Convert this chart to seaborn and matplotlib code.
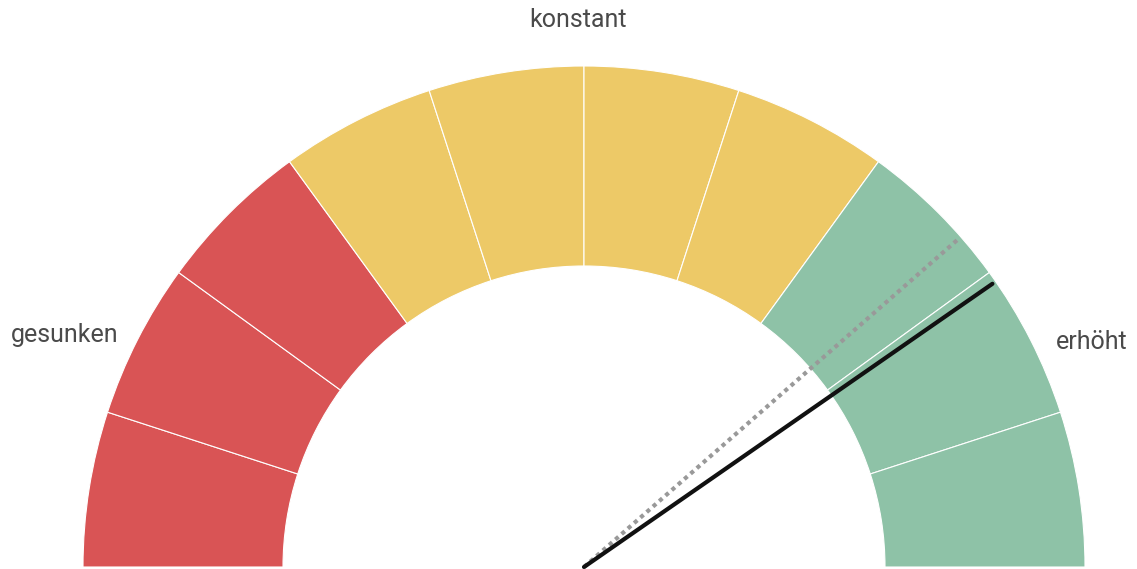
import numpy as np
import pandas as pd
import seaborn as sns
import matplotlib.pyplot as plt
from matplotlib.patches import Wedge

sns.set_style("white")
plt.rcParams["font.family"] = ["Roboto", "DejaVu Sans"]

# gauge data: 10 segments over the half circle, value scale 0..10
segment_colors = ["red"] * 3 + ["yellow"] * 4 + ["green"] * 3
palette = {"red": "#D95455", "yellow": "#EDC967", "green": "#8EC2A7"}
n_segments = 10
needle_names = ["aktuell", "vorher"]
needle_values = [8.07, 7.71]
labels = ["gesunken", "konstant", "erhöht"]

R_OUT, R_IN, R_NEEDLE = 501, 301, 497


def value_to_angle(v):
    return 180 - v / n_segments * 180


fig = plt.figure(figsize=(11.37, 5.69), dpi=100)
ax = fig.add_axes([0, 0, 1, 1])

for i, c in enumerate(segment_colors):
    a1 = value_to_angle(i + 1)
    a0 = value_to_angle(i)
    ax.add_patch(Wedge((0, 0), R_OUT, a1, a0, width=R_OUT - R_IN,
                       facecolor=palette[c], edgecolor="white", linewidth=0.8))

rows = []
for name, v in zip(needle_names, needle_values):
    ang = np.deg2rad(value_to_angle(v))
    rows.append({"needle": name, "x": 0.0, "y": 0.0})
    rows.append({"needle": name, "x": R_NEEDLE * np.cos(ang), "y": R_NEEDLE * np.sin(ang)})
df = pd.DataFrame(rows)

sns.lineplot(data=df[df.needle == "vorher"], x="x", y="y", color="#999999",
             linewidth=3, linestyle=(0, (1, 1)), sort=False, ax=ax, legend=False)
sns.lineplot(data=df[df.needle == "aktuell"], x="x", y="y", color="#111111",
             linewidth=3, sort=False, ax=ax, legend=False)

label_pos = [(-519, 232), (-6, 547), (508, 225)]
for txt, (x, y) in zip(labels, label_pos):
    ax.text(x, y, txt, ha="center", va="center", fontsize=18, color="#4a4a4a")

ax.set_xlim(-584, 553)
ax.set_ylim(-2, 567)
ax.set_aspect("equal")
ax.axis("off")

fig.savefig("out.png", dpi=100)
